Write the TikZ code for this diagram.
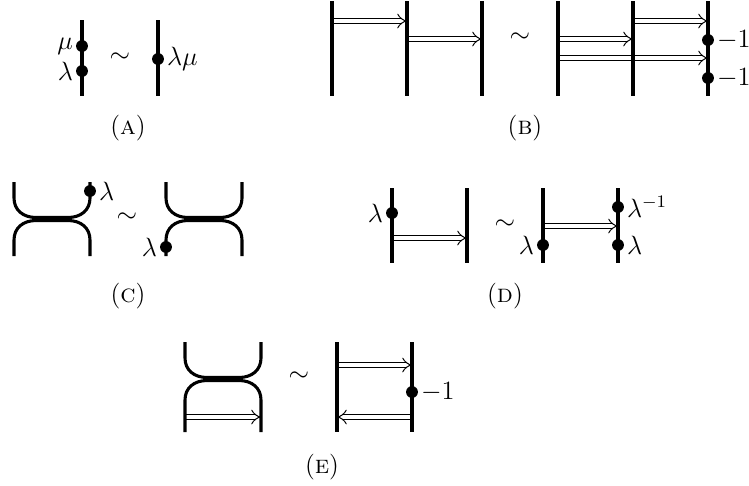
\documentclass[tikz,border=0pt]{standalone}
\usetikzlibrary{arrows.meta}
\begin{document}
\begin{tikzpicture}[x=0.4545pt,y=-0.4545pt,
  every node/.style={font=\fontsize{11.7}{14}\selectfont},
  strand/.style={line width=1.4pt},
  dotnode/.style={circle,fill=black,inner sep=0pt,minimum size=5.4pt},
  hom/.style={double,double distance=1.9pt,line width=0.45pt,-{Implies}},
  lab/.style={inner sep=1pt},
  capt/.style={inner sep=0pt}]
\useasboundingbox (0,0) rectangle (749,485);

% ---------- (A)
\coordinate (A1t) at (82,20); \coordinate (A1b) at (82,96);
\coordinate (A2t) at (158,20); \coordinate (A2b) at (158,96);
\draw[strand] (A1t) -- (A1b);
\draw[strand] (A2t) -- (A2b);
\node[dotnode] (Amu) at (82,46) {};
\node[lab,left] (Amul) at (Amu.west) {$\mu$};
\node[dotnode] (Ala) at (82,71) {};
\node[lab,left] (Alal) at (Ala.west) {$\lambda$};
\node (Asim) at (120,58) {$\sim$};
\node[dotnode] (Alm) at (158,59) {};
\node[lab,right] (Alml) at (Alm.east) {$\lambda\mu$};
\node[capt] (Acap) at (128,128) {(\textsc{a})};

% ---------- (B)
\foreach \n/\x in {1/332,2/407,3/482,4/558,5/633,6/708}{
  \coordinate (B\n t) at (\x,1); \coordinate (B\n b) at (\x,96);
}
\coordinate (B1a) at (332,21); \coordinate (B2a) at (407,21);
\coordinate (B2c) at (407,39); \coordinate (B3c) at (482,39);
\coordinate (B5a) at (633,21); \coordinate (B6a) at (708,21);
\coordinate (B4c) at (558,39); \coordinate (B5c) at (633,39);
\coordinate (B4e) at (558,58); \coordinate (B6e) at (708,58);
\draw[hom] (B1a) -- (B2a);
\draw[hom] (B2c) -- (B3c);
\draw[hom] (B5a) -- (B6a);
\draw[hom] (B4c) -- (B5c);
\draw[hom] (B4e) -- (B6e);
\foreach \n in {1,...,6}{ \draw[strand] (B\n t) -- (B\n b); }
\node (Bsim) at (520,38) {$\sim$};
\node[dotnode] (Bd1) at (708,40) {};
\node[lab,right] (Bd1l) at (Bd1.east) {$-1$};
\node[dotnode] (Bd2) at (708,78) {};
\node[lab,right] (Bd2l) at (Bd2.east) {$-1$};
\node[capt] (Bcap) at (525,128) {(\textsc{b})};

% ---------- (C)
\draw[strand] (14,182) -- (14,198) .. controls (14,210) and (23,217.5) .. (36,217.5)
  -- (68,217.5) .. controls (81,217.5) and (90,210) .. (90,198) -- (90,182);
\draw[strand] (14,256) -- (14,240) .. controls (14,228) and (23,220.5) .. (36,220.5)
  -- (68,220.5) .. controls (81,220.5) and (90,228) .. (90,240) -- (90,256);
\node[dotnode] (Cd1) at (90,191) {};
\node[lab,right] (Cd1l) at (Cd1.east) {$\lambda$};
\node (Csim) at (127,218) {$\sim$};
\draw[strand] (166,182) -- (166,198) .. controls (166,210) and (175,217.5) .. (188,217.5)
  -- (220,217.5) .. controls (233,217.5) and (242,210) .. (242,198) -- (242,182);
\draw[strand] (166,256) -- (166,240) .. controls (166,228) and (175,220.5) .. (188,220.5)
  -- (220,220.5) .. controls (233,220.5) and (242,228) .. (242,240) -- (242,256);
\node[dotnode] (Cd2) at (166,247) {};
\node[lab,left] (Cd2l) at (Cd2.west) {$\lambda$};
\node[capt] (Ccap) at (128,296) {(\textsc{c})};

% ---------- (D)
\foreach \n/\x in {1/392,2/467,3/543,4/618}{
  \coordinate (D\n t) at (\x,188); \coordinate (D\n b) at (\x,263);
}
\coordinate (D1a) at (392,238); \coordinate (D2a) at (467,238);
\coordinate (D3a) at (543,226); \coordinate (D4a) at (618,226);
\draw[hom] (D1a) -- (D2a);
\draw[hom] (D3a) -- (D4a);
\foreach \n in {1,...,4}{ \draw[strand] (D\n t) -- (D\n b); }
\node[dotnode] (Dd1) at (392,213) {};
\node[lab,left] (Dd1l) at (Dd1.west) {$\lambda$};
\node (Dsim) at (505,225) {$\sim$};
\node[dotnode] (Dd2) at (543,245) {};
\node[lab,left] (Dd2l) at (Dd2.west) {$\lambda$};
\node[dotnode] (Dd3) at (618,207) {};
\node[lab,right] (Dd3l) at (Dd3.east) {$\lambda^{-1}$};
\node[dotnode] (Dd4) at (618,245) {};
\node[lab,right] (Dd4l) at (Dd4.east) {$\lambda$};
\node[capt] (Dcap) at (505,296) {(\textsc{d})};

% ---------- (E)
\coordinate (E1a) at (185,417); \coordinate (E2a) at (261,417);
\draw[hom] (E1a) -- (E2a);
\draw[strand] (185,342) -- (185,358) .. controls (185,370) and (194,377.5) .. (207,377.5)
  -- (239,377.5) .. controls (252,377.5) and (261,370) .. (261,358) -- (261,342);
\draw[strand] (185,432) -- (185,400) .. controls (185,388) and (194,380.5) .. (207,380.5)
  -- (239,380.5) .. controls (252,380.5) and (261,388) .. (261,400) -- (261,432);
\node (Esim) at (299,377) {$\sim$};
\coordinate (E3t) at (337,342); \coordinate (E3b) at (337,432);
\coordinate (E4t) at (412,342); \coordinate (E4b) at (412,432);
\coordinate (E3a) at (337,365); \coordinate (E4a) at (412,365);
\coordinate (E3c) at (337,417); \coordinate (E4c) at (412,417);
\draw[hom] (E3a) -- (E4a);
\draw[hom] (E4c) -- (E3c);
\draw[strand] (E3t) -- (E3b);
\draw[strand] (E4t) -- (E4b);
\node[dotnode] (Ed) at (412,392) {};
\node[lab,right] (Edl) at (Ed.east) {$-1$};
\node[capt] (Ecap) at (322,467) {(\textsc{e})};
\end{tikzpicture}
\end{document}
